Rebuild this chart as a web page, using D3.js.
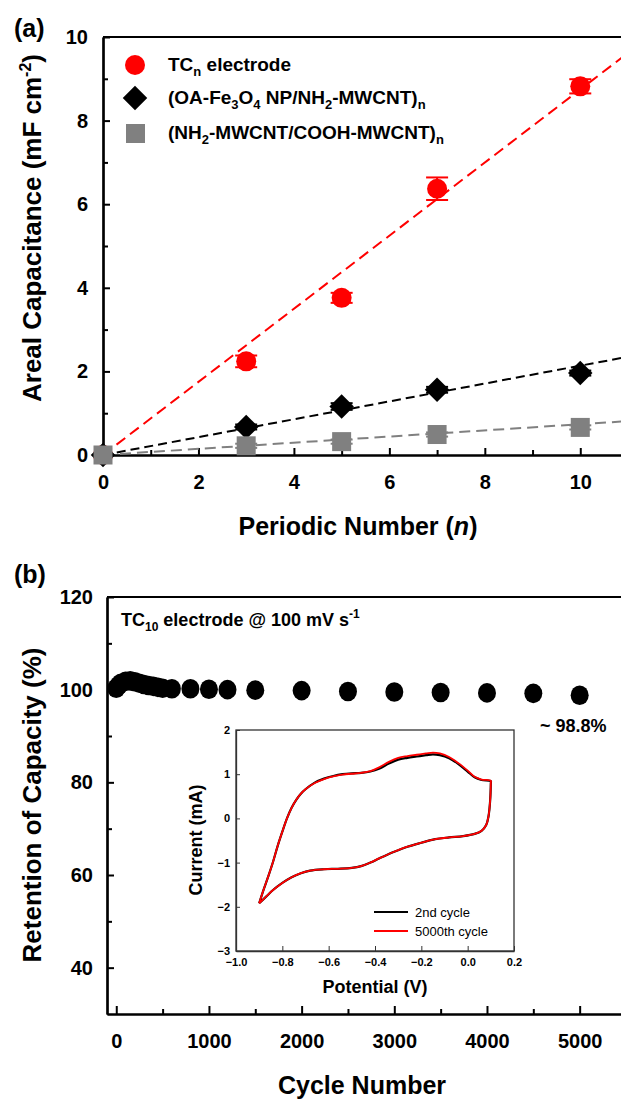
<!DOCTYPE html>
<html>
<head>
<meta charset="utf-8">
<script src="https://cdn.jsdelivr.net/npm/d3@7"></script>
<style>
  html, body { margin: 0; padding: 0; background: #fff; }
  svg { display: block; font-family: "Liberation Sans", Arial, sans-serif; }
  .tick text { font-weight: bold; }
</style>
</head>
<body>
<div id="chart"></div>
<script>
// ---- panel (a): areal capacitance vs periodic number ----
var periodicN = [0, 3, 5, 7, 10];
var tcVals = [0, 2.24, 3.76, 6.37, 8.82];
var tcErr = [0, 0.14, 0.12, 0.27, 0.17];
var feVals = [0, 0.67, 1.16, 1.56, 1.96];
var feErr = [0, 0.06, 0.08, 0.07, 0.06];
var cntVals = [0, 0.22, 0.32, 0.49, 0.66];
var cntErr = [0, 0.05, 0.05, 0.05, 0.05];
// linear fits through origin, end values at n = 11
var fitN = [0, 11];
var tcFit = [0, 9.62];
var feFit = [0, 2.35];
var cntFit = [0, 0.81];
var aYTicks = [0, 2, 4, 6, 8, 10];
var aXTicks = [0, 2, 4, 6, 8, 10];

// ---- panel (b): capacity retention vs cycle number ----
var cycles = [0, 25, 50, 100, 150, 200, 250, 300, 350, 400, 450, 500, 600,
              800, 1000, 1200, 1500, 2000, 2500, 3000, 3500, 4000, 4500, 5000];
var retention = [100.3, 100.9, 101.4, 101.8, 101.9, 101.7, 101.4, 101.1, 100.9, 100.7, 100.5, 100.3, 100.2,
                 100.2, 100.1, 100.0, 99.9, 99.8, 99.6, 99.5, 99.4, 99.3, 99.2, 98.8];
var bYTicks = [40, 60, 80, 100, 120];
var bXTicks = [0, 1000, 2000, 3000, 4000, 5000];

// ---- inset: cyclic voltammograms ----
var cvPotential = [-0.90, -0.88, -0.86, -0.84, -0.82, -0.80, -0.78, -0.76, -0.74, -0.72, -0.70, -0.66, -0.62, -0.58,
                   -0.54, -0.50, -0.46, -0.42, -0.38, -0.34, -0.30, -0.26, -0.22, -0.18, -0.15, -0.12, -0.08, -0.04,
                   0.00, 0.03, 0.06, 0.10,
                   0.10, 0.097, 0.09, 0.08, 0.06, 0.03, -0.02, -0.08, -0.14, -0.20, -0.26, -0.32, -0.38, -0.42,
                   -0.46, -0.50, -0.56, -0.62, -0.68, -0.72, -0.76, -0.80, -0.84, -0.87, -0.90];
var cvCycle2 = [-1.92, -1.60, -1.30, -0.98, -0.62, -0.30, 0.00, 0.24, 0.42, 0.56, 0.66, 0.81, 0.90, 0.96,
                1.00, 1.02, 1.03, 1.06, 1.13, 1.24, 1.33, 1.37, 1.40, 1.43, 1.45, 1.43, 1.36, 1.23,
                1.06, 0.93, 0.87, 0.84,
                0.80, 0.40, 0.05, -0.15, -0.28, -0.35, -0.40, -0.43, -0.47, -0.55, -0.64, -0.76, -0.90, -1.00,
                -1.08, -1.12, -1.14, -1.15, -1.18, -1.24, -1.33, -1.46, -1.62, -1.77, -1.92];
var cvCycle5000 = [-1.92, -1.60, -1.30, -0.98, -0.62, -0.30, 0.00, 0.24, 0.42, 0.56, 0.66, 0.80, 0.89, 0.95,
                   0.99, 1.01, 1.03, 1.07, 1.16, 1.28, 1.37, 1.41, 1.44, 1.47, 1.49, 1.47, 1.39, 1.25,
                   1.08, 0.94, 0.88, 0.85,
                   0.80, 0.40, 0.05, -0.15, -0.28, -0.35, -0.40, -0.43, -0.47, -0.55, -0.64, -0.76, -0.90, -1.00,
                   -1.08, -1.12, -1.14, -1.15, -1.18, -1.24, -1.33, -1.46, -1.62, -1.77, -1.92];
var cvYTicks = [-3, -2, -1, 0, 1, 2];
var cvXTicks = [-1.0, -0.8, -0.6, -0.4, -0.2, 0.0, 0.2];

var W = 621, H = 1099;
var svg = d3.select('#chart').append('svg').attr('width', W).attr('height', H);

// write a label made of [text, shift] pieces; shift > 0 is subscript, < 0 superscript
function rich(t, parts, small) {
    var cur = 0;
    parts.forEach(function (p) {
        var shift = p[1] || 0;
        var ts = t.append('tspan').attr('dy', shift - cur).text(p[0]);
        if (shift) ts.attr('font-size', small);
        cur = shift;
    });
}

// ========== panel (a) ==========
var ax = d3.scaleLinear().domain([0, 11]).range([103, 628]);
var ay = d3.scaleLinear().domain([0, 10]).range([455, 37]);
var ga = svg.append('g');

ga.append('line').attr('x1', 103).attr('x2', 628).attr('y1', 37).attr('y2', 37)
    .attr('stroke', '#000').attr('stroke-width', 1.8);

ga.append('g').attr('transform', 'translate(103,0)')
    .call(d3.axisLeft(ay).tickValues(aYTicks).tickSize(-7).tickSizeOuter(0).tickPadding(15).tickFormat(d3.format('d')));
ga.append('g').attr('transform', 'translate(103,0)')
    .call(d3.axisLeft(ay).tickValues([1, 3, 5, 7, 9]).tickSize(-5).tickSizeOuter(0).tickFormat(''));
ga.append('g').attr('transform', 'translate(0,455)')
    .call(d3.axisBottom(ax).tickValues(aXTicks).tickSize(-7).tickSizeOuter(0).tickPadding(20).tickFormat(d3.format('d')));
ga.append('g').attr('transform', 'translate(0,455)')
    .call(d3.axisBottom(ax).tickValues([1, 3, 5, 7, 9]).tickSize(-5).tickSizeOuter(0).tickFormat(''));
ga.selectAll('.domain').attr('stroke-width', 2.2);
ga.selectAll('.tick line').attr('stroke-width', 2);
ga.selectAll('.tick text').attr('font-size', 20).attr('fill', '#000');

// fits
var fitLine = d3.line().x(function (d) { return ax(d[0]); }).y(function (d) { return ay(d[1]); });
[[tcFit, '#ff0000', '11,6'], [feFit, '#000000', '9,5'], [cntFit, '#808080', '11,6']].forEach(function (f) {
    ga.append('path').datum(d3.zip(fitN, f[0])).attr('d', fitLine)
        .attr('fill', 'none').attr('stroke', f[1]).attr('stroke-width', 2).attr('stroke-dasharray', f[2]);
});

function errBars(vals, errs, color) {
    periodicN.forEach(function (n, i) {
        if (!errs[i]) return;
        var g = ga.append('g').attr('stroke', color).attr('stroke-width', 2);
        g.append('line').attr('x1', ax(n)).attr('x2', ax(n)).attr('y1', ay(vals[i] - errs[i])).attr('y2', ay(vals[i] + errs[i]));
        [vals[i] - errs[i], vals[i] + errs[i]].forEach(function (v) {
            g.append('line').attr('x1', ax(n) - 11).attr('x2', ax(n) + 11).attr('y1', ay(v)).attr('y2', ay(v));
        });
    });
}

errBars(tcVals, tcErr, '#ff0000');
ga.selectAll('.tc').data(periodicN).enter().append('circle')
    .attr('cx', function (d) { return ax(d); })
    .attr('cy', function (d, i) { return ay(tcVals[i]); })
    .attr('r', 10).attr('fill', '#ff0000');

errBars(feVals, feErr, '#000000');
var diamond = d3.symbol().type(d3.symbolSquare).size(300);
ga.selectAll('.fe').data(periodicN).enter().append('path')
    .attr('d', diamond)
    .attr('transform', function (d, i) { return 'translate(' + ax(d) + ',' + ay(feVals[i]) + ') rotate(45)'; })
    .attr('fill', '#000');

errBars(cntVals, cntErr, '#808080');
ga.selectAll('.cnt').data(periodicN).enter().append('rect')
    .attr('x', function (d) { return ax(d) - 9.5; })
    .attr('y', function (d, i) { return ay(cntVals[i]) - 9.5; })
    .attr('width', 19).attr('height', 19).attr('fill', '#808080');

// legend
var leg = ga.append('g').attr('font-size', 19).attr('font-weight', 'bold');
leg.append('circle').attr('cx', 135).attr('cy', 65).attr('r', 10).attr('fill', '#ff0000');
leg.append('path').attr('d', diamond).attr('transform', 'translate(135,98) rotate(45)').attr('fill', '#000');
leg.append('rect').attr('x', 126).attr('y', 124).attr('width', 19).attr('height', 19).attr('fill', '#808080');

rich(leg.append('text').attr('x', 168).attr('y', 71),
    [['TC'], ['n', 5], [' electrode']], 13);
rich(leg.append('text').attr('x', 168).attr('y', 104),
    [['(OA-Fe'], ['3', 5], ['O'], ['4', 5], [' NP/NH'], ['2', 5], ['-MWCNT)'], ['n', 5]], 13);
rich(leg.append('text').attr('x', 168).attr('y', 139),
    [['(NH'], ['2', 5], ['-MWCNT/COOH-MWCNT)'], ['n', 5]], 13);

// axis titles
rich(ga.append('text').attr('transform', 'translate(41,228) rotate(-90)')
    .attr('text-anchor', 'middle').attr('font-size', 26).attr('font-weight', 'bold'),
    [['Areal Capacitance (mF cm'], ['-2', -10], [')']], 16);

var axt = ga.append('text').attr('x', 358).attr('y', 535)
    .attr('text-anchor', 'middle').attr('font-size', 25).attr('font-weight', 'bold');
axt.append('tspan').text('Periodic Number (');
axt.append('tspan').attr('font-style', 'italic').text('n');
axt.append('tspan').text(')');

svg.append('text').attr('x', 14).attr('y', 37).attr('font-size', 25).attr('font-weight', 'bold').text('(a)');

// ========== panel (b) ==========
var bx = d3.scaleLinear().domain([-100, 5500]).range([107, 626]);
var by = d3.scaleLinear().domain([30, 120]).range([1014, 597]);
var gb = svg.append('g');

gb.append('line').attr('x1', 107).attr('x2', 626).attr('y1', 597).attr('y2', 597)
    .attr('stroke', '#000').attr('stroke-width', 1.8);
gb.append('g').attr('transform', 'translate(107,0)')
    .call(d3.axisLeft(by).tickValues(bYTicks).tickSize(-7).tickSizeOuter(0).tickPadding(14).tickFormat(d3.format('d')));
gb.append('g').attr('transform', 'translate(107,0)')
    .call(d3.axisLeft(by).tickValues([50, 70, 90, 110]).tickSize(-5).tickSizeOuter(0).tickFormat(''));
gb.append('g').attr('transform', 'translate(0,1014)')
    .call(d3.axisBottom(bx).tickValues(bXTicks).tickSize(-8).tickSizeOuter(0).tickPadding(20).tickFormat(d3.format('d')));
gb.append('g').attr('transform', 'translate(0,1014)')
    .call(d3.axisBottom(bx).tickValues([500, 1500, 2500, 3500, 4500]).tickSize(-5).tickSizeOuter(0).tickFormat(''));
gb.selectAll('.domain').attr('stroke-width', 2.2);
gb.selectAll('.tick line').attr('stroke-width', 2);
gb.selectAll('.tick text').attr('font-size', 20).attr('fill', '#000');

gb.selectAll('.pt').data(cycles).enter().append('ellipse')
    .attr('cx', function (d) { return bx(d); })
    .attr('cy', function (d, i) { return by(retention[i]); })
    .attr('rx', 9).attr('ry', 9.8).attr('fill', '#000');

rich(gb.append('text').attr('x', 121).attr('y', 626).attr('font-size', 18).attr('font-weight', 'bold'),
    [['TC'], ['10', 5], [' electrode @ 100 mV s'], ['-1', -8]], 12);

gb.append('text').attr('x', 540).attr('y', 732).attr('font-size', 18).attr('font-weight', 'bold').text('~ 98.8%');

gb.append('text').attr('transform', 'translate(41,805) rotate(-90)')
    .attr('text-anchor', 'middle').attr('font-size', 26).attr('font-weight', 'bold')
    .text('Retention of Capacity (%)');
gb.append('text').attr('x', 362).attr('y', 1094).attr('text-anchor', 'middle')
    .attr('font-size', 25).attr('font-weight', 'bold').text('Cycle Number');

svg.append('text').attr('x', 14).attr('y', 583).attr('font-size', 25).attr('font-weight', 'bold').text('(b)');

// ========== inset ==========
var ix = d3.scaleLinear().domain([-1.0, 0.2]).range([236, 514]);
var iy = d3.scaleLinear().domain([-3, 2]).range([951, 730]);
var gi = svg.append('g');
gi.append('rect').attr('x', 236).attr('y', 730).attr('width', 278).attr('height', 221)
    .attr('fill', '#fff').attr('stroke', '#333').attr('stroke-width', 1.3);
gi.append('g').attr('transform', 'translate(236,0)')
    .call(d3.axisLeft(iy).tickValues(cvYTicks).tickSize(-4).tickSizeOuter(0).tickPadding(6).tickFormat(d3.format('d')));
gi.append('g').attr('transform', 'translate(0,951)')
    .call(d3.axisBottom(ix).tickValues(cvXTicks).tickSize(-5).tickSizeOuter(0).tickPadding(7).tickFormat(d3.format('.1f')));
gi.selectAll('.domain').attr('stroke', '#333').attr('stroke-width', 1.3);
gi.selectAll('.tick line').attr('stroke', '#333');
gi.selectAll('.tick text').attr('font-size', 11).attr('fill', '#000');

var cvLine = d3.line().x(function (d) { return ix(d[0]); }).y(function (d) { return iy(d[1]); })
    .curve(d3.curveCatmullRom);
gi.append('path').datum(d3.zip(cvPotential, cvCycle2)).attr('d', cvLine)
    .attr('fill', 'none').attr('stroke', '#000').attr('stroke-width', 2.2);
gi.append('path').datum(d3.zip(cvPotential, cvCycle5000)).attr('d', cvLine)
    .attr('fill', 'none').attr('stroke', '#ff0000').attr('stroke-width', 1.8);

gi.append('line').attr('x1', 374).attr('x2', 408).attr('y1', 912).attr('y2', 912).attr('stroke', '#000').attr('stroke-width', 2);
gi.append('line').attr('x1', 374).attr('x2', 408).attr('y1', 931).attr('y2', 931).attr('stroke', '#ff0000').attr('stroke-width', 2);
gi.append('text').attr('x', 415).attr('y', 917).attr('font-size', 13).text('2nd cycle');
gi.append('text').attr('x', 415).attr('y', 936).attr('font-size', 13).text('5000th cycle');

gi.append('text').attr('transform', 'translate(202,840) rotate(-90)').attr('text-anchor', 'middle')
    .attr('font-size', 18).attr('font-weight', 'bold').text('Current (mA)');
gi.append('text').attr('x', 375).attr('y', 993).attr('text-anchor', 'middle')
    .attr('font-size', 18).attr('font-weight', 'bold').text('Potential (V)');
</script>
</body>
</html>
